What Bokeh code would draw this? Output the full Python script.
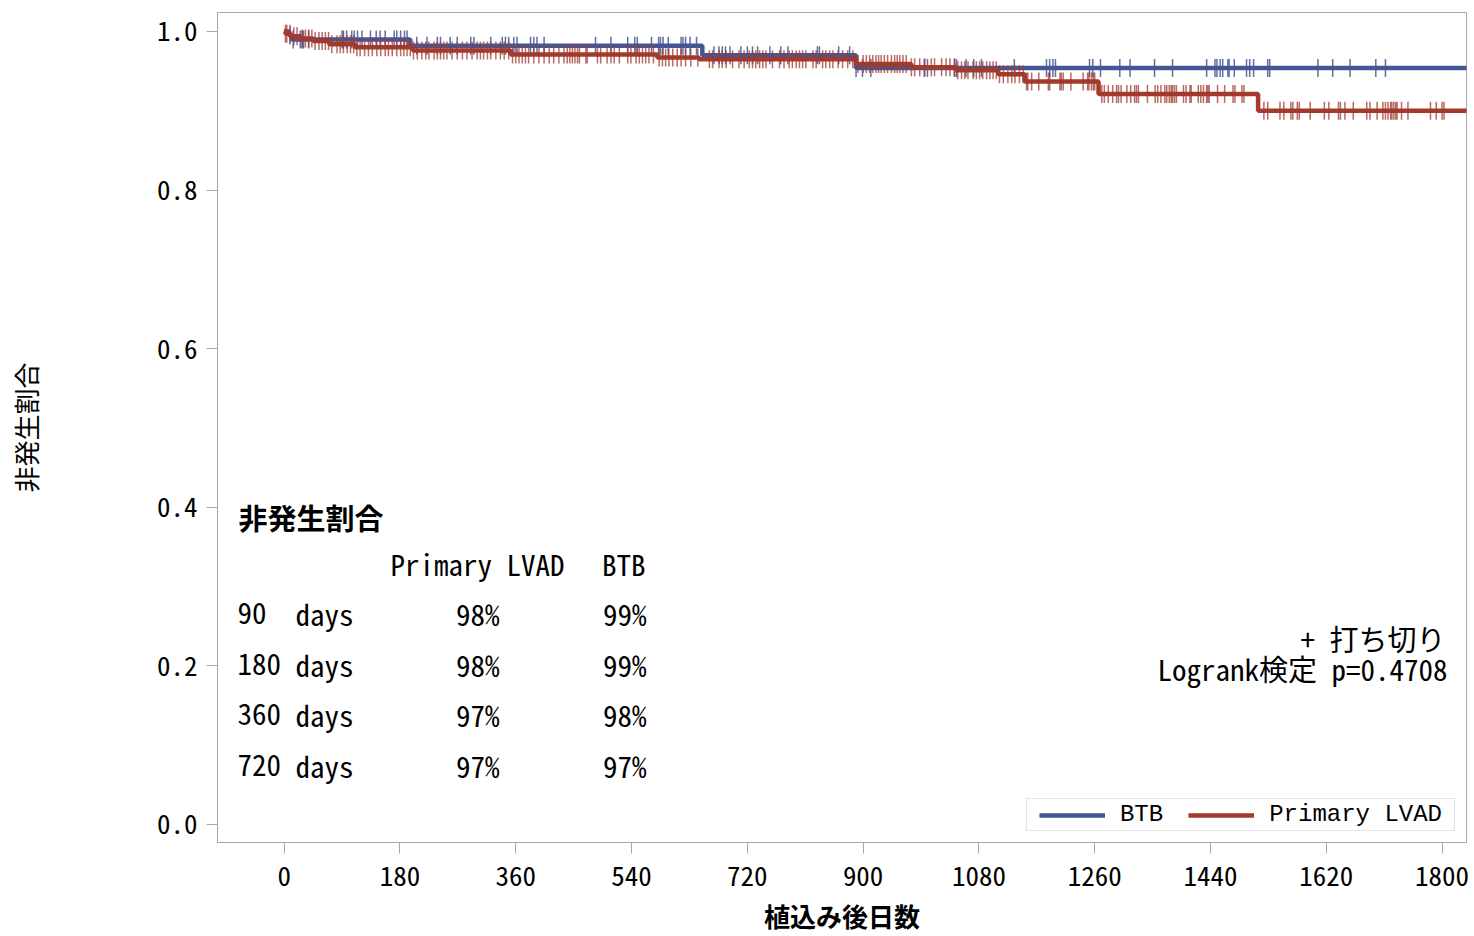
import numpy as np
from bokeh.plotting import figure
from bokeh.models import FixedTicker, Label, Legend, LegendItem, Range1d, PrintfTickFormatter
from bokeh.embed import file_html
from bokeh.resources import INLINE

BLUE = "#445694"
RED = "#A23A2E"
MONO = "Noto Sans Mono CJK JP"
CJK = "Noto Sans CJK JP"

# ---------------- data ----------------
btb_time = [0, 8, 12, 196, 650, 889, 1840]
btb_surv = [1.0, 0.995, 0.990, 0.982, 0.970, 0.954, 0.954]

lvad_time = [0, 2, 10, 25, 45, 70, 110, 200, 352, 580, 645, 889, 975, 1045,
             1110, 1151, 1266, 1514, 1840]
lvad_surv = [1.0, 0.997, 0.994, 0.991, 0.988, 0.984, 0.980, 0.976, 0.971,
             0.967, 0.965, 0.959, 0.955, 0.951, 0.946, 0.937, 0.921, 0.900, 0.900]

btb_censor = [9, 14, 25, 28, 30, 38, 90, 92, 97, 105, 109, 114, 121, 134, 143,
              149, 157, 171, 175, 181, 187, 191, 206, 222, 238, 243, 258, 269,
              290, 295, 321, 339, 344, 349, 357, 362, 383, 388, 393, 404, 484,
              508, 534, 545, 549, 571, 582, 585, 589, 597, 617, 620, 624, 631,
              641, 668, 676, 681, 686, 693, 710, 720, 728, 736, 755, 772, 783,
              829, 832, 862, 879, 889, 899, 912, 995, 1000, 1042, 1045, 1060,
              1072, 1084, 1135, 1185, 1190, 1195, 1199, 1252, 1257, 1269, 1299,
              1315, 1353, 1381, 1434, 1447, 1450, 1455, 1459, 1467, 1469, 1477,
              1496, 1501, 1507, 1529, 1532, 1607, 1630, 1657, 1697, 1712]

lvad_censor = [2, 4, 9, 15, 20, 28, 33, 38, 43, 48, 54, 59, 64, 69, 74, 82, 87,
               92, 98, 103, 108, 113, 118, 125, 131, 137, 144, 150, 157, 162,
               168, 175, 181, 186, 191, 196, 201, 207, 214, 220, 225, 233, 238,
               243, 248, 253, 261, 269, 277, 284, 292, 300, 305, 310, 316, 321,
               329, 336, 342, 349, 355, 360, 365, 370, 375, 380, 388, 396, 404,
               412, 419, 427, 435, 440, 444, 448, 452, 456, 459, 469, 471, 487,
               492, 502, 508, 513, 521, 534, 539, 547, 552, 557, 562, 567, 574,
               583, 588, 593, 598, 604, 611, 617, 624, 632, 643, 661, 666, 676,
               681, 687, 697, 707, 715, 723, 728, 733, 739, 744, 749, 759, 770,
               777, 785, 790, 796, 801, 806, 811, 822, 827, 837, 842, 848, 853,
               861, 868, 876, 884, 892, 900, 905, 910, 915, 920, 924, 928, 933,
               938, 944, 949, 953, 957, 962, 967, 975, 980, 988, 996, 1006, 1011,
               1022, 1029, 1035, 1042, 1047, 1053, 1058, 1063, 1071, 1076, 1081,
               1086, 1092, 1097, 1102, 1107, 1112, 1118, 1125, 1131, 1136, 1143,
               1149, 1154, 1156, 1162, 1173, 1188, 1190, 1206, 1208, 1211, 1223,
               1242, 1249, 1251, 1255, 1258, 1260, 1271, 1275, 1281, 1288, 1294,
               1297, 1301, 1310, 1316, 1322, 1325, 1328, 1342, 1354, 1358, 1363,
               1369, 1372, 1376, 1379, 1381, 1384, 1387, 1398, 1402, 1408, 1410,
               1421, 1425, 1429, 1434, 1436, 1438, 1451, 1462, 1475, 1478, 1489,
               1492, 1523, 1529, 1548, 1554, 1565, 1568, 1575, 1578, 1595, 1617,
               1624, 1639, 1642, 1649, 1662, 1683, 1688, 1699, 1708, 1712, 1716,
               1720, 1722, 1725, 1728, 1730, 1737, 1747, 1782, 1791, 1800, 1803]

x_ticks = [0, 180, 360, 540, 720, 900, 1080, 1260, 1440, 1620, 1800]
y_ticks = [0.0, 0.2, 0.4, 0.6, 0.8, 1.0]

x_title = "植込み後日数"
y_title = "非発生割合"
table_title = "非発生割合"
table_groups = ["Primary LVAD", "BTB"]
table_days = ["90", "180", "360", "720"]
table_unit = "days"
table_lvad = ["98%", "98%", "97%", "97%"]
table_btb = ["99%", "99%", "98%", "97%"]
censor_note = "+ 打ち切り"
logrank_text = "Logrank検定 p=0.4708"


def surv_at(times, st, sv):
    st = np.asarray(st)
    sv = np.asarray(sv)
    idx = np.searchsorted(st, np.asarray(times), side="right") - 1
    return sv[idx]


# ---------------- figure ----------------
p = figure(width=1472, height=936, output_backend="svg", toolbar_location=None,
           x_range=Range1d(-103.7, 1838), y_range=Range1d(-0.0227, 1.0239),
           min_border_left=217, min_border_right=6, min_border_top=12,
           min_border_bottom=93)
p.grid.visible = False
p.outline_line_color = "#a8a8a8"
p.outline_line_width = 1
p.background_fill_color = "white"
p.border_fill_color = "white"

blue_line = p.step(btb_time, btb_surv, mode="after", line_color=BLUE, line_width=4.5)
p.scatter(btb_censor, surv_at(btb_censor, btb_time, btb_surv), marker="dash",
          angle=np.pi / 2, size=18, line_color=BLUE, line_width=1.5, line_alpha=0.85)
red_line = p.step(lvad_time, lvad_surv, mode="after", line_color=RED, line_width=4.5)
p.scatter(lvad_censor, surv_at(lvad_censor, lvad_time, lvad_surv), marker="dash",
          angle=np.pi / 2, size=18, line_color=RED, line_width=1.5, line_alpha=0.75)

# axes
for ax in (p.xaxis[0], p.yaxis[0]):
    ax.axis_line_color = "#a8a8a8"
    ax.major_tick_line_color = "#a8a8a8"
    ax.major_tick_out = 11
    ax.major_tick_in = 0
    ax.minor_tick_line_color = None
    ax.major_label_text_font = MONO
    ax.major_label_text_font_size = "27px"
    ax.major_label_text_color = "black"
    ax.axis_label_text_color = "black"
    ax.axis_label_text_font = CJK
    ax.axis_label_text_font_size = "26px"

p.xaxis.ticker = FixedTicker(ticks=x_ticks)
p.yaxis.ticker = FixedTicker(ticks=y_ticks)
p.yaxis.formatter = PrintfTickFormatter(format="%.1f")
p.xaxis.major_label_standoff = 12
p.xaxis.axis_label = x_title
p.xaxis.axis_label_text_font_style = "bold"
p.xaxis.axis_label_standoff = 8
p.yaxis.axis_label = y_title
p.yaxis.axis_label_text_font_style = "normal"
p.yaxis.major_label_standoff = 9
p.yaxis.axis_label_standoff = 110

# legend
legend = Legend(items=[LegendItem(label="BTB", renderers=[blue_line]),
                       LegendItem(label="Primary LVAD", renderers=[red_line])],
                orientation="horizontal", location="bottom_right",
                glyph_width=66, glyph_height=20, label_standoff=15, spacing=25,
                margin=11, border_line_color="#c8c8c8",
                label_text_font="Liberation Mono", label_text_font_size="24px",
                label_text_color="black", label_height=20)
try:
    legend.padding = (12, 2)
except Exception:
    legend.padding = 3
p.add_layout(legend)


def add_label(text, x, y, align="left", bold=False, font=MONO, size="29px",
              baseline="middle"):
    p.add_layout(Label(x=x, y=y, x_units="screen", y_units="screen", text=text,
                       text_font=font, text_font_size=size, text_align=align,
                       text_baseline=baseline, text_color="black",
                       text_font_style="bold" if bold else "normal"))


# table (screen units relative to frame bottom-left)
add_label(table_title, 21, 326, bold=True, font=CJK, size="29px")
add_label(table_groups[0], 173, 280, baseline="alphabetic")
add_label(table_groups[1], 428, 280, align="right", baseline="alphabetic")
row_y = [229.5, 178.5, 128.5, 77.5]
for i in range(4):
    add_label(table_days[i], 20, row_y[i], baseline="alphabetic")
    add_label(table_unit, 78, row_y[i], baseline="alphabetic")
    add_label(table_lvad[i], 282, row_y[i], align="right", baseline="alphabetic")
    add_label(table_btb[i], 429, row_y[i], align="right", baseline="alphabetic")

add_label(censor_note, 1228, 205, align="right")
add_label(logrank_text, 1230, 175, align="right")

open("out.html", "w").write(file_html(p, INLINE))
